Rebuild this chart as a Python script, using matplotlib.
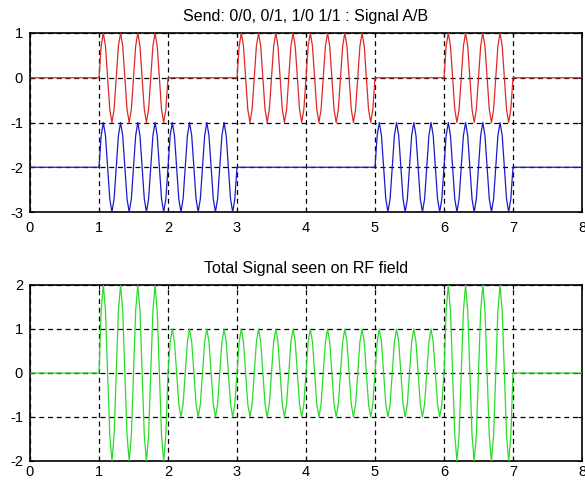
import numpy as np
import matplotlib
matplotlib.use("Agg")
import matplotlib.pyplot as plt

plt.rcParams['font.family'] = ['Liberation Sans', 'DejaVu Sans']
plt.rcParams['axes.unicode_minus'] = False

# Data: bit pattern per unit interval 0..8
bits_a = [0, 1, 0, 1, 1, 0, 1, 0]
bits_b = [0, 1, 1, 0, 0, 1, 1, 0]
carrier_cycles = 4          # cycles per unit time
offset_b = -2
x_ticks = [0, 1, 2, 3, 4, 5, 6, 7, 8]
top_yticks = [-3, -2, -1, 0, 1]
bot_yticks = [-2, -1, 0, 1, 2]
title_top = "Send: 0/0, 0/1, 1/0 1/1 : Signal A/B"
title_bot = "Total Signal seen on RF field"

step = 1 / 32
t = np.arange(0, 8 + step / 2, step)
idx = np.clip(np.ceil(t - 1e-9).astype(int) - 1, 0, 7)
carrier = np.sin(2 * np.pi * carrier_cycles * t)
sig_a = np.array(bits_a)[idx] * carrier
sig_b = np.array(bits_b)[idx] * carrier
total = sig_a + sig_b

fig = plt.figure(figsize=(5.85, 4.82), dpi=100)
ax1 = fig.add_axes([30 / 585, 1 - 212 / 482, 552 / 585, 179 / 482])
ax2 = fig.add_axes([30 / 585, 1 - 461 / 482, 552 / 585, 176 / 482])

ax1.plot(t, sig_a, color='#e02828', lw=0.9, zorder=3)
ax1.plot(t, sig_b + offset_b, color='#1a1acc', lw=0.9, zorder=3)
ax2.plot(t, total, color='#2adc2a', lw=0.9, zorder=3)

for ax, yt, title, xpad in [(ax1, top_yticks, title_top, 6.5),
                            (ax2, bot_yticks, title_bot, 3)]:
    ax.set_xlim(0, 8)
    ax.set_ylim(yt[0], yt[-1])
    ax.set_xticks(x_ticks)
    ax.set_yticks(yt)
    ax.grid(True, color='black', linestyle=(0, (4, 3)), linewidth=0.9, zorder=1)
    ax.tick_params(direction='in', length=3, labelsize=10.5, top=True, right=True)
    ax.tick_params(axis='x', pad=xpad)
    ax.tick_params(axis='y', pad=5)
    for s in ax.spines.values():
        s.set_linewidth(1.2)
    ax.set_title(title, fontsize=11.5, pad=9)

fig.savefig("out.png", dpi=100)
